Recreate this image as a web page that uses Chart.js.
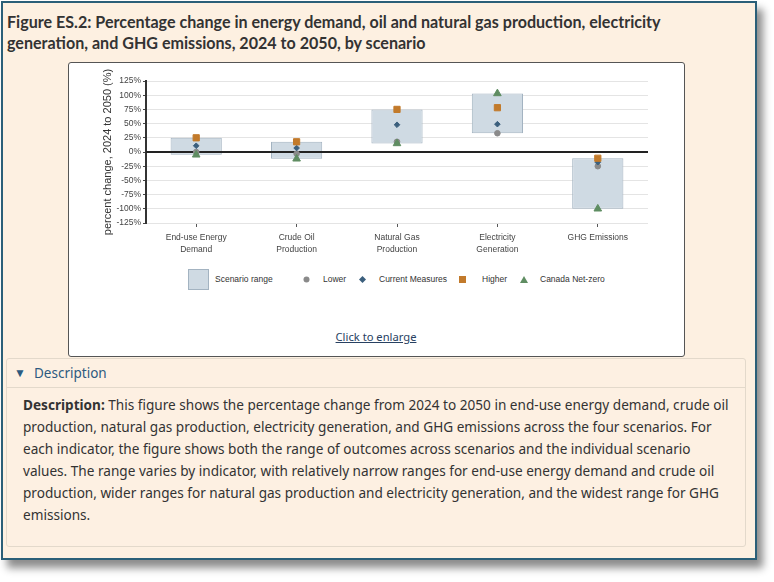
<!DOCTYPE html>
<html>
<head>
<meta charset="utf-8">
<script src="https://cdn.jsdelivr.net/npm/chart.js@4.4.1/dist/chart.umd.min.js"></script>
<style>
body { margin: 0; width: 774px; height: 582px; background: #fff; position: relative; overflow: hidden; font-family: "Noto Sans", sans-serif; color: #333; }
#panel { position: absolute; left: 1px; top: 1px; width: 752px; height: 555px; background: #fdf0e1; border: 2px solid #2b5f78; box-shadow: 6px 8px 8px rgba(0,0,0,0.45); }
#title { position: absolute; left: 7px; top: 11px; font-family: Lato, sans-serif; font-weight: bold; font-size: 16.1px; line-height: 21px; color: #333; white-space: nowrap; }
#frame { position: absolute; left: 68px; top: 62px; width: 615px; height: 293px; background: #fff; border: 1px solid #555; border-radius: 3px; }
#chartBox { position: absolute; left: 69px; top: 63px; width: 615px; height: 200px; }
.leg { position: absolute; font-family: "Liberation Sans", Arial, sans-serif; font-size: 8.5px; color: #333; line-height: 10px; top: 274px; white-space: nowrap; }
.mk { position: absolute; line-height: 0; }
.mk svg { display: block; }
#link { position: absolute; left: 276px; width: 200px; top: 329px; text-align: center; font-size: 11.2px; color: #284162; text-decoration: underline; }
#desc { position: absolute; left: 6px; top: 358px; width: 738px; height: 187px; background: #fdf0e2; border: 1px solid #e3d9cb; border-radius: 3px; }
#descHead { position: absolute; left: 0; top: 0; width: 738px; height: 28px; border-bottom: 1px solid #e3d9cb; }
#descHead span { position: absolute; top: 5px; font-size: 13.5px; line-height: 18px; color: #2d5a80; }
#descBody { position: absolute; left: 16px; top: 35px; font-size: 13.6px; line-height: 22px; color: #333; white-space: nowrap; }
</style>
</head>
<body>
<div id="panel"></div>
<div id="title">Figure ES.2: Percentage change in energy demand, oil and natural gas production, electricity<br>generation, and GHG emissions, 2024 to 2050, by scenario</div>
<div id="frame"></div>
<div id="chartBox"><canvas id="myChart"></canvas></div>
<div id="legend"></div>
<div id="link">Click to enlarge</div>
<div id="desc">
  <div id="descHead"><span style="left:7px;font-size:12px;">&#9660;</span><span style="left:27px;">Description</span></div>
  <div id="descBody"><b>Description:</b> This figure shows the percentage change from 2024 to 2050 in end-use energy demand, crude oil<br>production, natural gas production, electricity generation, and GHG emissions across the four scenarios. For<br>each indicator, the figure shows both the range of outcomes across scenarios and the individual scenario<br>values. The range varies by indicator, with relatively narrow ranges for end-use energy demand and crude oil<br>production, wider ranges for natural gas production and electricity generation, and the widest range for GHG<br>emissions.</div>
</div>
<script>
const categories = [['End-use Energy', 'Demand'], ['Crude Oil', 'Production'], ['Natural Gas', 'Production'], ['Electricity', 'Generation'], 'GHG Emissions'];
const rangeLow = [-5, -12, 15, 33, -100];
const rangeHigh = [25, 18, 75, 103, -11];
const lower = [0, -3, 18, 33, -25];
const currentMeasures = [11, 7, 48, 49, -18];
const higher = [25, 18, 75, 78, -11];
const canadaNetZero = [-5, -12, 15, 103, -100];
const yMin = -125;
const yMax = 125;
const yStep = 25;

const rangeFill = '#cfdae3';
const rangeBorder = '#a3b3c1';
const colLower = '#8a8a8a';
const colCurrent = '#3b5f7d';
const colHigher = '#c27a2b';
const colNetZero = '#5f8d62';

const chart = document.querySelector('#myChart');
const yTickFont = { family: '"Liberation Sans", Arial, sans-serif', size: 8.5 };
const xTickFont = { family: '"Liberation Sans", Arial, sans-serif', size: 8.5, lineHeight: 1.35 };

// black zero line drawn over the range boxes but under the markers
const zeroLine = {
    id: 'zeroLine',
    afterDatasetDraw(c, args) {
        if (args.index !== 0) return;
        const ctx = c.ctx;
        const y = c.scales.y.getPixelForValue(0);
        ctx.save();
        ctx.strokeStyle = '#222';
        ctx.lineWidth = 2;
        ctx.beginPath();
        ctx.moveTo(c.chartArea.left, y);
        ctx.lineTo(c.chartArea.right, y);
        ctx.stroke();
        ctx.restore();
    }
};

function markerSet(label, data, style, radius, color, order) {
    return {
        type: 'line',
        label: label,
        data: data,
        showLine: false,
        pointStyle: style,
        pointRadius: radius,
        pointHoverRadius: radius,
        pointBackgroundColor: color,
        pointBorderColor: color,
        pointBorderWidth: 1,
        order: order
    };
}

const myChart = new Chart(chart, {
    type: 'bar',
    data: {
        labels: categories,
        datasets: [
            {
                label: 'Scenario range',
                data: categories.map((c, i) => [rangeLow[i], rangeHigh[i]]),
                backgroundColor: rangeFill,
                borderColor: rangeBorder,
                borderWidth: 1,
                borderSkipped: false,
                barPercentage: 0.51,
                categoryPercentage: 1,
                order: 10
            },
            markerSet('Lower', lower, 'circle', 2.8, colLower, 4),
            markerSet('Current Measures', currentMeasures, 'rectRot', 2.8, colCurrent, 3),
            markerSet('Higher', higher, 'rect', 4.4, colHigher, 2),
            markerSet('Canada Net-zero', canadaNetZero, 'triangle', 4.4, colNetZero, 1)
        ]
    },
    options: {
        responsive: true,
        maintainAspectRatio: false,
        animation: false,
        layout: { padding: { top: 18, right: 36, left: 0, bottom: 0 } },
        plugins: {
            legend: { display: false },
            tooltip: { enabled: false }
        },
        scales: {
            x: {
                afterFit: (s) => { s.height = 40; },
                border: { display: false },
                grid: { drawOnChartArea: false, offset: false, tickLength: 4, color: '#555' },
                ticks: { font: xTickFont, color: '#444', padding: 5, maxRotation: 0, autoSkip: false }
            },
            y: {
                min: yMin,
                max: yMax,
                afterFit: (s) => { s.width = 77; },
                border: { display: true, color: '#333', width: 2 },
                grid: {
                    color: (ctx) => ctx.tick && ctx.tick.value === 0 ? 'rgba(0,0,0,0)' : '#e4e4e4',
                    tickColor: '#444',
                    tickLength: 3
                },
                ticks: {
                    stepSize: yStep,
                    autoSkip: false,
                    font: yTickFont,
                    color: '#444',
                    padding: 2,
                    callback: (v) => v + '%'
                },
                title: {
                    display: true,
                    text: 'percent change, 2024 to 2050 (%)',
                    font: { family: '"Liberation Sans", Arial, sans-serif', size: 11 },
                    color: '#333',
                    padding: { top: 32, bottom: 0 }
                }
            }
        }
    },
    plugins: [zeroLine]
});

// legend row under the chart
const legendItems = [
    { text: 'Scenario range', left: 188, size: 21, svg: '<svg width="21" height="21"><rect x="0.5" y="0.5" width="20" height="20" fill="' + rangeFill + '" stroke="' + rangeBorder + '"/></svg>', textLeft: 215 },
    { text: 'Lower', left: 303, size: 7, svg: '<svg width="7" height="7"><circle cx="3.5" cy="3.5" r="3" fill="' + colLower + '"/></svg>', textLeft: 323 },
    { text: 'Current Measures', left: 359, size: 7, svg: '<svg width="7" height="7"><polygon points="3.5,0 7,3.5 3.5,7 0,3.5" fill="' + colCurrent + '"/></svg>', textLeft: 379 },
    { text: 'Higher', left: 459, size: 7, svg: '<svg width="7" height="7"><rect width="7" height="7" fill="' + colHigher + '"/></svg>', textLeft: 482 },
    { text: 'Canada Net-zero', left: 520, size: 7, svg: '<svg width="8" height="7"><polygon points="4,0 8,7 0,7" fill="' + colNetZero + '"/></svg>', textLeft: 540 }
];
const legend = document.querySelector('#legend');
legendItems.forEach((it) => {
    const m = document.createElement('div');
    m.className = 'mk';
    m.style.left = it.left + 'px';
    m.style.top = (279 - it.size / 2) + 'px';
    m.innerHTML = it.svg;
    legend.appendChild(m);
    const t = document.createElement('div');
    t.className = 'leg';
    t.style.left = it.textLeft + 'px';
    t.textContent = it.text;
    legend.appendChild(t);
});
</script>
</body>
</html>
